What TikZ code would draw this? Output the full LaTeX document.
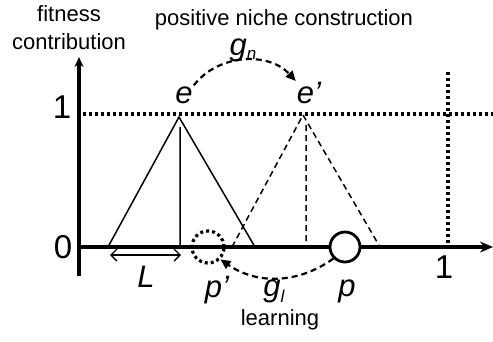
\documentclass[tikz,border=0pt]{standalone}
\usepackage{fontspec}
\setmainfont{Liberation Sans}
\usetikzlibrary{arrows.meta}

\begin{document}
\begin{tikzpicture}[x=1pt,y=-1pt,
  txt/.style={draw = none, fill = none, inner sep = 1pt, font=\fontsize{22}{26}\selectfont},
  num/.style={draw = none, fill = none, inner sep = 1pt, font=\fontsize{33}{36}\selectfont},
  sym/.style={draw = none, fill = none, inner sep = 1pt, font=\fontsize{31}{34}\selectfont\itshape},
  axis/.style={line width=3.8pt},
  dots/.style={line width=3.2pt, dash pattern=on 3pt off 3pt},
  move/.style={line width=2.2pt, dash pattern=on 6pt off 4pt, -{Triangle[length=10pt,width=9pt]}}]

\useasboundingbox (0,0) rectangle (493,341);

% peaks
\draw[line width=1.5pt] (108,247) -- (179,117) -- (255,247)
      (180,127) -- (180,247);
\draw[line width=1.5pt, dash pattern=on 6pt off 4pt] (232,247) -- (303,115) -- (380,247)
      (306,125) -- (306,242);

% axes and guides
\draw[dots] (83,114) -- (493,114)
            (448,72) -- (448,245);
\draw[axis, -{Stealth[length=10pt,width=9pt]}] (79,276) -- (79,57);
\draw[line width=3.5pt, -{Stealth[length=13pt,width=11pt]}] (79,247) -- (493,247);
\draw[line width=1.4pt, {Straight Barb[length=6pt]}-{Straight Barb[length=6pt]}] (110,255) -- (181,255);

\node[dots, circle, draw, minimum size=32pt, inner sep=0pt] (pp) at (208,247) {};
\node[circle, draw, line width=2.8pt, fill=white, minimum size=30pt, inner sep=0pt] (p) at (345,247) {};

% labels
\node[txt] (fit) at (69,14) {fitness};
\node[txt] (con) at (69,42) {contribution};
\node[txt] (pnc) at (284,20) {positive niche construction};
\node[txt] (lrn) at (280,320) {learning};
\node[num] (one) at (62,107) {1};
\node[num] (zero) at (63,247) {0};
\node[num] (onex) at (444,267) {1};
\node[sym] (e) at (184,95) {e};
\node[sym] (ep) at (309,93) {e’};
\node[sym] (lab) at (146,277) {L};
\node[sym] (ppl) at (217,290) {p’};
\node[sym] (pl) at (347,291) {p};
\node[sym] (gn) at (243,50) {g\raisebox{-4pt}{\fontsize{17}{17}\selectfont n}};
\node[sym] (gl) at (274,291) {g\raisebox{-6pt}{\fontsize{17}{17}\selectfont l}};

\draw[move] (e.north east) to[bend left=50] (ep.north west);
\draw[move] (p.south west) to[bend left=35] (pp.south east);
\end{tikzpicture}
\end{document}
